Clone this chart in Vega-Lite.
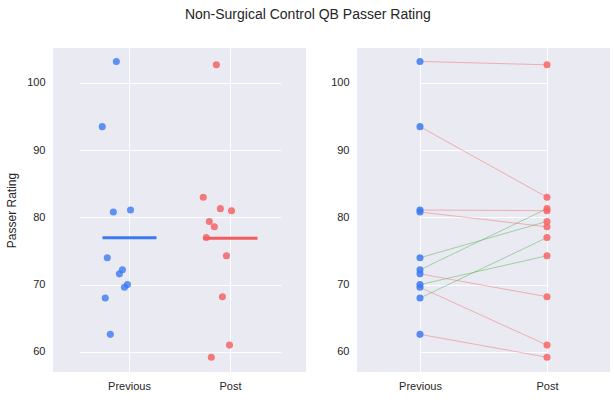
{
  "$schema": "https://vega.github.io/schema/vega-lite/v6.json",
  "title": {"text": "Non-Surgical Control QB Passer Rating", "fontSize": 14, "fontWeight": "normal", "font": "Liberation Sans", "color": "#262626", "offset": 26, "anchor": "middle"},
  "background": "white",
  "padding": {"left": 5, "top": 8, "right": 5, "bottom": 2},
  "spacing": 24,
  "datasets": {
    "strip": [
      {"group": "Previous", "rating": 103.2, "jitter": -0.13},
      {"group": "Previous", "rating": 93.5, "jitter": -0.27},
      {"group": "Previous", "rating": 80.8, "jitter": -0.16},
      {"group": "Previous", "rating": 81.1, "jitter": 0.01},
      {"group": "Previous", "rating": 74.0, "jitter": -0.22},
      {"group": "Previous", "rating": 72.2, "jitter": -0.07},
      {"group": "Previous", "rating": 71.6, "jitter": -0.1},
      {"group": "Previous", "rating": 70.0, "jitter": -0.02},
      {"group": "Previous", "rating": 69.6, "jitter": -0.05},
      {"group": "Previous", "rating": 68.0, "jitter": -0.24},
      {"group": "Previous", "rating": 62.6, "jitter": -0.19},
      {"group": "Post", "rating": 102.7, "jitter": -0.14},
      {"group": "Post", "rating": 83.0, "jitter": -0.27},
      {"group": "Post", "rating": 79.4, "jitter": -0.21},
      {"group": "Post", "rating": 81.3, "jitter": -0.1},
      {"group": "Post", "rating": 81.0, "jitter": 0.01},
      {"group": "Post", "rating": 78.6, "jitter": -0.16},
      {"group": "Post", "rating": 77.0, "jitter": -0.24},
      {"group": "Post", "rating": 74.3, "jitter": -0.04},
      {"group": "Post", "rating": 68.2, "jitter": -0.08},
      {"group": "Post", "rating": 61.0, "jitter": -0.01},
      {"group": "Post", "rating": 59.2, "jitter": -0.19}
    ],
    "pairs": [
      {"qb": 1, "group": "Previous", "rating": 103.2, "trend": "down"},
      {"qb": 1, "group": "Post", "rating": 102.7, "trend": "down"},
      {"qb": 2, "group": "Previous", "rating": 93.5, "trend": "down"},
      {"qb": 2, "group": "Post", "rating": 83.0, "trend": "down"},
      {"qb": 3, "group": "Previous", "rating": 81.1, "trend": "down"},
      {"qb": 3, "group": "Post", "rating": 81.0, "trend": "down"},
      {"qb": 4, "group": "Previous", "rating": 80.8, "trend": "down"},
      {"qb": 4, "group": "Post", "rating": 78.6, "trend": "down"},
      {"qb": 5, "group": "Previous", "rating": 74.0, "trend": "up"},
      {"qb": 5, "group": "Post", "rating": 79.4, "trend": "up"},
      {"qb": 6, "group": "Previous", "rating": 72.2, "trend": "up"},
      {"qb": 6, "group": "Post", "rating": 81.3, "trend": "up"},
      {"qb": 7, "group": "Previous", "rating": 71.6, "trend": "down"},
      {"qb": 7, "group": "Post", "rating": 68.2, "trend": "down"},
      {"qb": 8, "group": "Previous", "rating": 70.0, "trend": "up"},
      {"qb": 8, "group": "Post", "rating": 74.3, "trend": "up"},
      {"qb": 9, "group": "Previous", "rating": 69.6, "trend": "down"},
      {"qb": 9, "group": "Post", "rating": 61.0, "trend": "down"},
      {"qb": 10, "group": "Previous", "rating": 68.0, "trend": "up"},
      {"qb": 10, "group": "Post", "rating": 77.0, "trend": "up"},
      {"qb": 11, "group": "Previous", "rating": 62.6, "trend": "down"},
      {"qb": 11, "group": "Post", "rating": 59.2, "trend": "down"}
    ]
  },
  "hconcat": [
    {
      "width": 253,
      "height": 324,
      "data": {"name": "strip"},
      "layer": [
        {
          "mark": {"type": "circle", "size": 50, "opacity": 0.8},
          "encoding": {
            "xOffset": {"field": "jitter", "type": "quantitative", "scale": {"domain": [-0.5, 0.5], "range": [0, 101]}}
          }
        },
        {
          "mark": {"type": "tick", "orient": "horizontal", "size": 54, "thickness": 3, "opacity": 1},
          "encoding": {
            "y": {"aggregate": "mean", "field": "rating", "type": "quantitative"}
          }
        }
      ],
      "encoding": {
        "x": {"field": "group", "type": "nominal", "sort": ["Previous", "Post"], "title": null,
              "scale": {"type": "band", "range": [26, 228], "paddingInner": 0, "paddingOuter": 0},
              "axis": {"labelAngle": 0}},
        "y": {"field": "rating", "type": "quantitative", "title": "Passer Rating",
              "scale": {"domain": [57, 105.2], "nice": false, "zero": false},
              "axis": {"values": [60, 70, 80, 90, 100]}},
        "color": {"field": "group", "type": "nominal", "legend": null,
                  "scale": {"domain": ["Previous", "Post"], "range": ["#3b7af2", "#f25c5c"]}}
      }
    },
    {
      "width": 253,
      "height": 324,
      "data": {"name": "pairs"},
      "layer": [
        {
          "mark": {"type": "line", "strokeWidth": 0.8, "opacity": 0.6},
          "encoding": {
            "detail": {"field": "qb"},
            "color": {"field": "trend", "type": "nominal", "legend": null,
                      "scale": {"domain": ["up", "down"], "range": ["#4caf50", "#f26b6b"]}}
          }
        },
        {
          "mark": {"type": "circle", "size": 50, "opacity": 0.85},
          "encoding": {
            "fill": {"field": "group", "type": "nominal", "legend": null,
                     "scale": {"domain": ["Previous", "Post"], "range": ["#3b7af2", "#f76565"]}}
          }
        }
      ],
      "encoding": {
        "x": {"field": "group", "type": "nominal", "sort": ["Previous", "Post"], "title": null,
              "scale": {"type": "point", "range": [63, 190], "padding": 0},
              "axis": {"labelAngle": 0}},
        "y": {"field": "rating", "type": "quantitative", "title": null,
              "scale": {"domain": [57, 105.2], "nice": false, "zero": false},
              "axis": {"values": [60, 70, 80, 90, 100]}}
      }
    }
  ],
  "resolve": {"scale": {"color": "independent"}},
  "config": {
    "view": {"fill": "#eaeaf2", "stroke": null},
    "font": "Liberation Sans",
    "axis": {"grid": true, "gridColor": "white", "gridWidth": 1, "domain": false, "ticks": false,
             "labelFontSize": 11, "labelColor": "#262626", "labelPadding": 8,
             "titleFontSize": 12, "titleFontWeight": "normal", "titleColor": "#262626", "titlePadding": 8}
  }
}
